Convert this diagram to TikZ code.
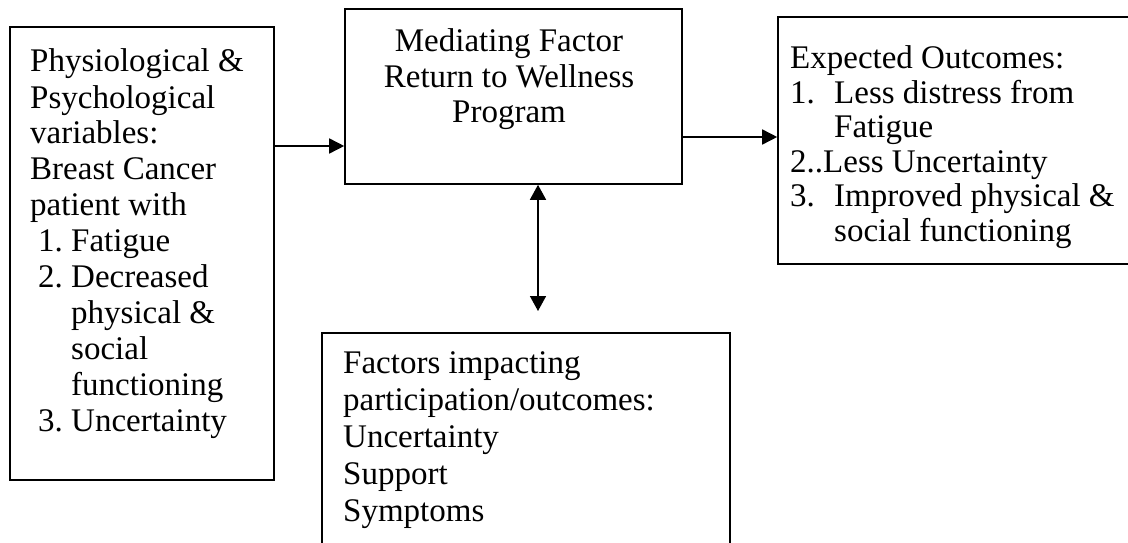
\documentclass[tikz,border=0pt]{standalone}
\usepackage{fontspec}
\setmainfont{Liberation Serif}
\usetikzlibrary{arrows.meta}
\newcommand\leftitem[1]{\hspace*{8pt}\makebox[33pt][l]{#1}}
\newcommand\rightitem[1]{\makebox[44pt][l]{#1}}
\begin{document}
\begin{tikzpicture}[x=1pt,y=-1pt,
  box/.style={draw=black, line width=1.6pt, inner sep=0pt},
  txt/.style={inner sep=0pt, anchor=base west},
  arr/.style={line width=1.6pt, -{Triangle[length=15pt,width=15pt]}},
  darr/.style={line width=1.6pt, {Triangle[length=15pt,width=16pt]}-{Triangle[length=15pt,width=16pt]}}]
\useasboundingbox (0,0) rectangle (1128,543);
\clip (0,0) rectangle (1128,543);
% boxes
\node[box, minimum width=264pt, minimum height=453pt] (L) at (142,253.5) {};
\node[box, minimum width=337pt, minimum height=175pt] (M) at (513.5,96.5) {};
\node[box, minimum width=362pt, minimum height=247pt] (R) at (959,140.5) {};
\node[box, minimum width=408pt, minimum height=227pt] (B) at (526,446.5) {};
% texts
\node[txt, font=\fontsize{33pt}{36pt}\selectfont] (Ltext) at (30,72) {\begin{tabular}[t]{@{}l@{}}Physiological \&\\ Psychological\\ variables:\\ Breast Cancer\\ patient with\\ \leftitem{1.}Fatigue\\ \leftitem{2.}Decreased\\ \hspace*{41pt}physical \&\\ \hspace*{41pt}social\\ \hspace*{41pt}functioning\\ \leftitem{3.}Uncertainty\end{tabular}};
\node[inner sep=0pt, anchor=base, font=\fontsize{33pt}{35.5pt}\selectfont] (Mtext) at (509,52) {\begin{tabular}[t]{@{}c@{}}Mediating Factor\\ Return to Wellness\\ Program\end{tabular}};
\node[txt, font=\fontsize{33pt}{34.5pt}\selectfont] (Rtext) at (790,69) {\begin{tabular}[t]{@{}l@{}}Expected Outcomes:\\ \rightitem{1.}Less distress from\\ \hspace*{44pt}Fatigue\\ 2..Less Uncertainty\\ \rightitem{3.}Improved physical \&\\ \hspace*{44pt}social functioning\end{tabular}};
\node[txt, font=\fontsize{33pt}{37pt}\selectfont] (Btext) at (343,373) {\begin{tabular}[t]{@{}l@{}}Factors impacting\\ participation/outcomes:\\ Uncertainty\\ Support\\ Symptoms\end{tabular}};
% connectors
\coordinate (a1) at (274,146);
\coordinate (a2) at (682,137);
\coordinate (d2) at (538,311);
\draw[arr] (L.east |- a1) -- (M.west |- a1);
\draw[arr] (M.east |- a2) -- (R.west |- a2);
\draw[darr] (M.south -| d2) -- (d2);
\end{tikzpicture}
\end{document}
